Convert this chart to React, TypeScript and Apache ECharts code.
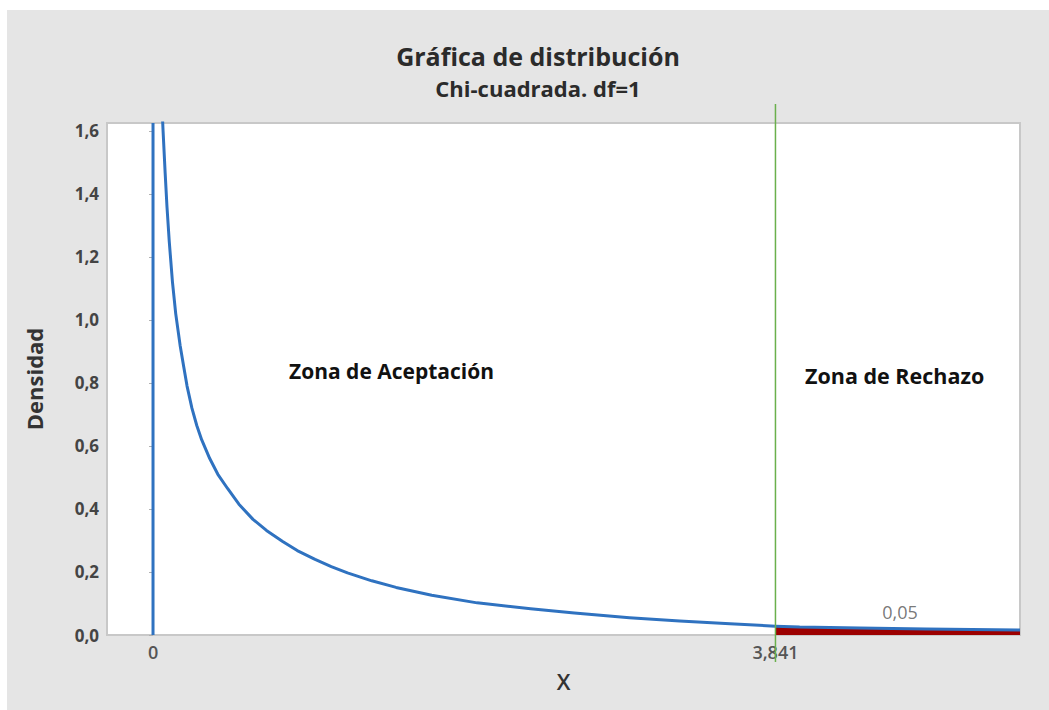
import React, { useEffect, useRef } from "react";
import * as echarts from "echarts";

const curveX = [0.05, 0.062, 0.075, 0.086, 0.1, 0.12, 0.14, 0.167, 0.19, 0.21, 0.24, 0.27, 0.3, 0.35, 0.4, 0.46, 0.53, 0.617, 0.7, 0.8, 0.89, 1.0, 1.1, 1.2, 1.35, 1.5, 1.72, 2.0, 2.33, 2.6, 2.94, 3.25, 3.56, 3.841, 3.99, 4.36, 4.77, 5.35];
const curveY = [1.74, 1.6, 1.465, 1.36, 1.25, 1.12, 1.02, 0.92, 0.85, 0.79, 0.72, 0.665, 0.62, 0.56, 0.51, 0.465, 0.415, 0.367, 0.332, 0.297, 0.268, 0.24, 0.217, 0.197, 0.172, 0.151, 0.126, 0.102, 0.0835, 0.0695, 0.055, 0.0445, 0.0355, 0.028, 0.025, 0.022, 0.019, 0.016];
const criticalValue = 3.841;
const alphaLabel = "0,05";
const alphaLabelPos = [4.61, 0.074];
const xTicks = [0, 3.841];
const yMin = 0;
const yMax = 1.625;
const xMin = -0.284;
const xMax = 5.35;

const FONT = "'Open Sans', 'Noto Sans', sans-serif";

export default function App() {
  const ref = useRef<HTMLDivElement>(null);
  useEffect(() => {
    if (!ref.current) return;
    const chart = echarts.init(ref.current, null, { renderer: "svg" });
    const curve = curveX.map((x, i) => [x, curveY[i]]);
    const tail = curve.filter((p) => p[0] >= criticalValue);
    const comma = (v: number) => String(v).replace(".", ",");
    chart.setOption({
      animation: false,
      backgroundColor: "#ffffff",
      textStyle: { fontFamily: FONT },
      graphic: [
        { type: "rect", z: -10, silent: true, shape: { x: 7, y: 10, width: 1042, height: 700 }, style: { fill: "#e5e5e5" } },
        { type: "text", left: 289, top: 360, style: { text: "Zona de Aceptación", font: `bold 21px ${FONT}`, fill: "#111" } },
        { type: "text", left: 805, top: 364, style: { text: "Zona de Rechazo", font: `bold 21.5px ${FONT}`, fill: "#111" } },
      ],
      title: [
        { text: "Gráfica de distribución", left: 533, top: 38, textAlign: "center", textStyle: { fontSize: 25, fontWeight: "bold", color: "#2b2b2b", fontFamily: FONT } },
        { text: "Chi-cuadrada. df=1", left: 533, top: 72, textAlign: "center", textStyle: { fontSize: 22, fontWeight: "bold", color: "#2b2b2b", fontFamily: FONT } },
      ],
      grid: { left: 107, top: 123, right: 29, bottom: 75, show: true, backgroundColor: "#ffffff", borderColor: "#c8c8c8", borderWidth: 2 },
      xAxis: {
        type: "value",
        min: xMin,
        max: xMax,
        name: "X",
        nameLocation: "middle",
        nameGap: 35,
        nameTextStyle: { fontSize: 22, color: "#333", fontWeight: 600, fontFamily: FONT },
        axisLine: { show: true, lineStyle: { color: "#c8c8c8", width: 2 } },
        axisTick: { show: false },
        splitLine: { show: false },
        axisLabel: { customValues: xTicks, formatter: (v: number) => comma(v), fontSize: 18, color: "#555", fontWeight: 600, margin: 8, fontFamily: FONT },
      },
      yAxis: {
        type: "value",
        min: yMin,
        max: yMax,
        interval: 0.2,
        name: "Densidad",
        nameLocation: "middle",
        nameRotate: 90,
        nameGap: 62,
        nameTextStyle: { fontSize: 22, color: "#333", fontWeight: "bold", fontFamily: FONT },
        axisLine: { show: true, lineStyle: { color: "#c8c8c8", width: 2 } },
        axisTick: { show: true, inside: false, length: 4, lineStyle: { color: "#b0b0b0" } },
        splitLine: { show: false },
        axisLabel: {
          showMaxLabel: false,
          formatter: (v: number) => (Math.abs(v * 5 - Math.round(v * 5)) < 1e-6 ? v.toFixed(1).replace(".", ",") : ""),
          fontSize: 17,
          color: "#444",
          fontWeight: "bold",
          margin: 8,
          fontFamily: FONT,
        },
      },
      series: [
        {
          type: "line",
          data: tail,
          symbol: "none",
          lineStyle: { width: 0 },
          areaStyle: { color: "#9c0000", opacity: 1 },
          z: 2,
        },
        {
          type: "line",
          data: [[0, yMin], [0, yMax]],
          symbol: "none",
          lineStyle: { color: "#2f72c0", width: 3 },
          z: 3,
        },
        {
          type: "line",
          data: curve,
          symbol: "none",
          smooth: false,
          lineStyle: { color: "#2f72c0", width: 3, join: "round" },
          z: 4,
        },
        {
          type: "scatter",
          data: [alphaLabelPos],
          symbolSize: 1,
          itemStyle: { color: "rgba(0,0,0,0)" },
          label: { show: true, position: "inside", formatter: alphaLabel, fontSize: 18, color: "#555", fontFamily: FONT },
          z: 5,
        },
        {
          type: "custom",
          clip: false,
          data: [[criticalValue, yMin, yMax]],
          renderItem: (params: any, api: any) => {
            const bottom = api.coord([api.value(0), api.value(1)]);
            const top = api.coord([api.value(0), api.value(2)]);
            return {
              type: "line",
              shape: { x1: bottom[0], y1: bottom[1] + 27, x2: top[0], y2: top[1] - 19 },
              style: { stroke: "#6ab04c", lineWidth: 1.5 },
              z2: 10,
            };
          },
          z: 6,
        },
      ],
    });
    return () => chart.dispose();
  }, []);
  return <div ref={ref} style={{ position: "absolute", left: 0, top: 0, width: 1049, height: 710 }} />;
}
